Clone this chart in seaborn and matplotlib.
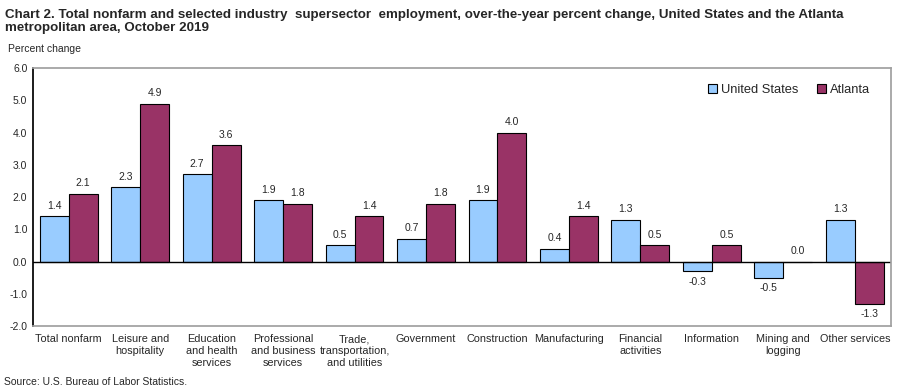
import pandas as pd
import numpy as np
import matplotlib.pyplot as plt
import seaborn as sns

sns.set_theme(style='white')
plt.rcParams['font.family'] = ['Liberation Sans', 'DejaVu Sans']

industries = ['Total nonfarm', 'Leisure and\nhospitality', 'Education\nand health\nservices',
              'Professional\nand business\nservices', 'Trade,\ntransportation,\nand utilities',
              'Government', 'Construction', 'Manufacturing', 'Financial\nactivities',
              'Information', 'Mining and\nlogging', 'Other services']
us_values = [1.4, 2.3, 2.7, 1.9, 0.5, 0.7, 1.9, 0.4, 1.3, -0.3, -0.5, 1.3]
atlanta_values = [2.1, 4.9, 3.6, 1.8, 1.4, 1.8, 4.0, 1.4, 0.5, 0.5, 0.0, -1.3]
series = ['United States', 'Atlanta']
colors = ['#99CCFF', '#993366']

df = pd.DataFrame({
    'industry': industries * 2,
    'value': us_values + atlanta_values,
    'area': [series[0]] * len(industries) + [series[1]] * len(industries)
})

fig = plt.figure(figsize=(8.98, 3.92), dpi=100)
ax = fig.add_axes([0.0367, 0.168, 0.955, 0.6585])

sns.barplot(data=df, x='industry', y='value', hue='area', hue_order=series,
            palette=colors, width=0.81, edgecolor='black', linewidth=0.8,
            saturation=1, ax=ax)

for cont in ax.containers:
    ax.bar_label(cont, fmt='%.1f', padding=4, fontsize=7.5)

ax.axhline(0, color='black', lw=1)
ax.set_ylim(-2, 6)
ax.set_yticks(np.arange(-2, 7, 1))
ax.set_yticklabels([f'{v:.1f}' for v in np.arange(-2, 7, 1)], fontsize=7.5)
ax.tick_params(axis='both', length=0, pad=4)
ax.tick_params(axis='x', labelsize=7.8, pad=6)
ax.set_xlim(-0.5, len(industries) - 0.5)
ax.set_xlabel('')
ax.set_ylabel('')
for side in ['top', 'right', 'bottom']:
    ax.spines[side].set_color('#A0A0A0')
ax.spines['left'].set_color('black')
for lab in ax.get_xticklabels():
    lab.set_verticalalignment('top')
    lab.set_linespacing(1.25)

ax.legend(loc='upper right', bbox_to_anchor=(0.99, 0.985), ncol=2, frameon=False,
          fontsize=9.3, handlelength=0.7, handleheight=0.7, handletextpad=0.3,
          columnspacing=1.5)

fig.text(0.006, 0.978, 'Chart 2. Total nonfarm and selected industry  supersector  employment, over-the-year percent change, United States and the Atlanta\nmetropolitan area, October 2019',
         fontsize=9.6, fontweight='bold', va='top', ha='left', linespacing=1.15)
fig.text(0.009, 0.862, 'Percent change', fontsize=7.5, va='bottom', ha='left')
fig.text(0.004, 0.012, 'Source: U.S. Bureau of Labor Statistics.', fontsize=7.5, va='bottom', ha='left')

plt.savefig('out.png', dpi=100)
plt.close()
